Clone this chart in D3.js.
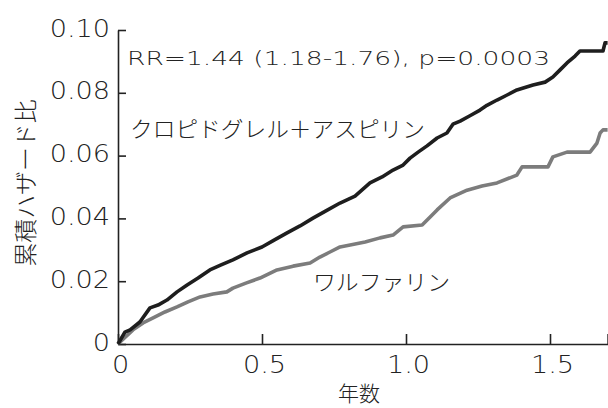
<!DOCTYPE html>
<html><head><meta charset="utf-8">
<script src="https://cdn.jsdelivr.net/npm/d3@7"></script>
<style>
html,body{margin:0;padding:0;background:#fff;}
svg{display:block;}
.num{font-family:"DejaVu Sans",sans-serif;font-weight:200;fill:#222;}
.jp{font-family:"Noto Sans CJK JP",sans-serif;font-weight:300;fill:#222;}
</style></head>
<body>
<svg id="c" width="608" height="408"></svg>
<script>
// Data (years, cumulative hazard ratio)
const clopidogrelAspirin = [
 [0,0],[0.024,0.0038],[0.042,0.0045],[0.076,0.0070],[0.111,0.0115],[0.139,0.0124],[0.170,0.0140],
 [0.205,0.0166],[0.240,0.0188],[0.278,0.0210],[0.319,0.0236],[0.358,0.0252],[0.399,0.0268],
 [0.448,0.0290],[0.500,0.0309],[0.542,0.0331],[0.587,0.0354],[0.632,0.0376],[0.677,0.0401],
 [0.722,0.0424],[0.771,0.0449],[0.823,0.0471],[0.875,0.0513],[0.917,0.0532],[0.955,0.0554],
 [0.990,0.0570],[1.014,0.0592],[1.042,0.0611],[1.073,0.0631],[1.108,0.0656],[1.142,0.0672],
 [1.163,0.0700],[1.188,0.0710],[1.222,0.0727],[1.257,0.0745],[1.281,0.0760],[1.316,0.0777],
 [1.351,0.0793],[1.385,0.0809],[1.441,0.0825],[1.483,0.0834],[1.510,0.0850],[1.535,0.0873],
 [1.559,0.0895],[1.587,0.0917],[1.604,0.0933],[1.684,0.0933],[1.691,0.0959],[1.70,0.0959]
];
const warfarin = [
 [0,0],[0.052,0.0045],[0.087,0.0067],[0.122,0.0083],[0.163,0.0102],[0.205,0.0118],[0.243,0.0134],
 [0.285,0.0150],[0.330,0.0159],[0.378,0.0166],[0.399,0.0178],[0.444,0.0194],[0.493,0.0210],
 [0.552,0.0236],[0.608,0.0248],[0.667,0.0258],[0.701,0.0277],[0.736,0.0293],[0.771,0.0309],
 [0.806,0.0315],[0.858,0.0325],[0.910,0.0338],[0.955,0.0347],[0.990,0.0373],[1.056,0.0379],
 [1.083,0.0404],[1.108,0.0427],[1.153,0.0465],[1.212,0.0490],[1.264,0.0503],[1.316,0.0513],
 [1.385,0.0538],[1.403,0.0564],[1.493,0.0564],[1.510,0.0596],[1.559,0.0611],[1.639,0.0611],
 [1.663,0.0640],[1.674,0.0672],[1.684,0.0682],[1.70,0.0682]
];
const xTicks = [0, 0.5, 1.0, 1.5, 1.7];
const xTickLabels = ["0", "0.5", "1.0", "1.5", ""];
const yTicks = [0, 0.02, 0.04, 0.06, 0.08, 0.10];
const yTickLabels = ["0", "0.02", "0.04", "0.06", "0.08", "0.10"];
const seriesNames = ["クロピドグレル＋アスピリン", "ワルファリン"];
const statText = "RR=1.44 (1.18-1.76), p=0.0003";
const xTitle = "年数";
const yTitle = "累積ハザード比";

const svg = d3.select("#c");
const x = d3.scaleLinear().domain([0, 1.7]).range([118, 607.6]);
const y = d3.scaleLinear().domain([0, 0.10]).range([344, 30]);

const stretch = 1.13;
function widen(sel, k){
  sel.each(function(){
    const w = this.getComputedTextLength();
    if (w > 0) d3.select(this).attr("textLength", w*k).attr("lengthAdjust","spacingAndGlyphs");
  });
}

// Axes
const gx = svg.append("g").attr("transform", `translate(0,${y(0)})`)
  .call(d3.axisBottom(x).tickValues(xTicks).tickFormat((d,i)=>xTickLabels[i])
        .tickSizeInner(-10).tickSizeOuter(0).tickPadding(13));
const gy = svg.append("g").attr("transform", `translate(${x(0)},0)`)
  .call(d3.axisLeft(y).tickValues(yTicks).tickFormat((d,i)=>yTickLabels[i])
        .tickSizeInner(-8).tickSizeOuter(0).tickPadding(8));
[gx, gy].forEach(g=>{
  g.select(".domain").attr("stroke","#222").attr("stroke-width",1.6);
  g.selectAll(".tick line").attr("stroke","#222").attr("stroke-width",1.6);
  g.selectAll("text").attr("class","num").attr("font-size",24).style("font-size","24px");
});
gy.selectAll("text").attr("dy","0.25em");
gx.selectAll("text").attr("dy","0.68em").attr("dx","2");
widen(gx.selectAll("text"), stretch);
widen(gy.selectAll("text"), stretch);

// Lines
const line = d3.line().x(d=>x(d[0])).y(d=>y(d[1])).curve(d3.curveLinear);
svg.append("path").datum(warfarin).attr("d", line)
  .attr("fill","none").attr("stroke","#7c7c7c").attr("stroke-width",3.6).attr("stroke-linejoin","round");
svg.append("path").datum(clopidogrelAspirin).attr("d", line)
  .attr("fill","none").attr("stroke","#1e1e1e").attr("stroke-width",3.6).attr("stroke-linejoin","round");

// Texts
const st = svg.append("text").attr("class","num").attr("x",127).attr("y",65)
  .style("font-size","20px").text(statText);
st.attr("textLength",423).attr("lengthAdjust","spacingAndGlyphs");

svg.append("text").attr("class","jp").attr("x",130).attr("y",127)
  .attr("dominant-baseline","central").style("font-size","22px")
  .attr("textLength",295).attr("lengthAdjust","spacingAndGlyphs").text(seriesNames[0]);
svg.append("text").attr("class","jp").attr("x",313).attr("y",280)
  .attr("dominant-baseline","central").style("font-size","22px")
  .attr("textLength",137).attr("lengthAdjust","spacingAndGlyphs").text(seriesNames[1]);

svg.append("text").attr("class","jp").attr("x",359).attr("y",392)
  .attr("text-anchor","middle").attr("dominant-baseline","central").style("font-size","21px")
  .text(xTitle);
svg.append("text").attr("class","jp")
  .attr("transform","translate(24,183) rotate(-90)")
  .attr("text-anchor","middle").attr("dominant-baseline","central").style("font-size","23px")
  .attr("textLength",167).attr("lengthAdjust","spacingAndGlyphs")
  .text(yTitle);
</script>
</body></html>
